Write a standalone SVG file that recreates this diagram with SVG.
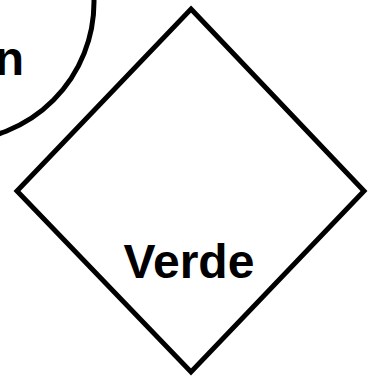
<svg xmlns="http://www.w3.org/2000/svg" width="368" height="380" viewBox="0 0 368 380">
  <style>
    .shape { fill: #ffffff; stroke: #000000; stroke-width: 5; stroke-linejoin: miter; }
    .label { font-family: "Comic Sans MS", "Liberation Sans", sans-serif; font-weight: bold; font-size: 48px; fill: #000000; }
  </style>
  <rect x="0" y="0" width="368" height="380" fill="#ffffff"/>
  <g id="connectors"></g>
  <g id="node-circle">
    <circle class="shape" cx="-45" cy="2" r="139"/>
    <text class="label" x="24" y="75" text-anchor="end">n</text>
  </g>
  <g id="node-verde">
    <polygon class="shape" points="191,9 364,191 191,372 17,191"/>
    <text class="label" x="189" y="278" text-anchor="middle">Verde</text>
  </g>
</svg>
